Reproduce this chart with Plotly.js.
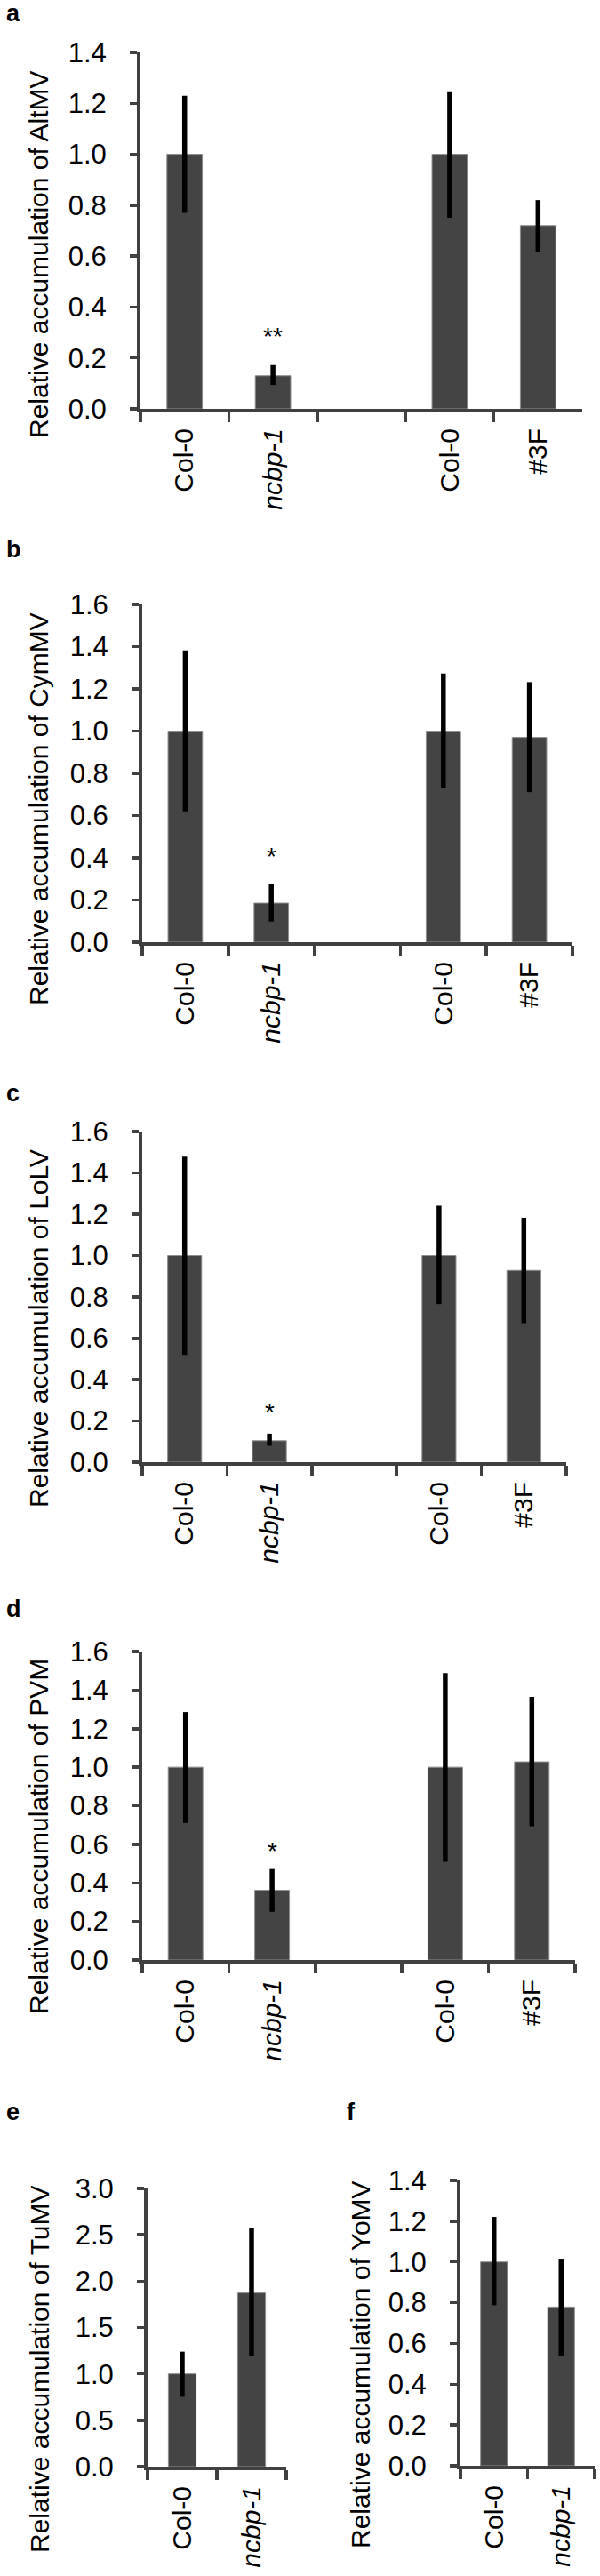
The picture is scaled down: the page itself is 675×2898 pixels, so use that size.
<!DOCTYPE html>
<html>
<head>
<meta charset="utf-8">
<script src="https://cdn.plot.ly/plotly-3.0.1.min.js"></script>
<style>
  html, body { margin: 0; padding: 0; background: #ffffff; }
  #chart { width: 675px; height: 2898px; }
</style>
</head>
<body>
<div id="chart"></div>
<script>
// categories (ids keep the two Col-0 groups apart, labels are what is printed)
const FOUR_IDS = ["col0_wt", "ncbp1", "gap", "col0_3f", "line3f"];
const FOUR_LABELS = ["Col-0", "<i>ncbp-1</i>", "", "Col-0", "#3F"];
const FOUR_BARS = ["col0_wt", "ncbp1", "col0_3f", "line3f"];
const TWO_IDS = ["col0", "ncbp1"];
const TWO_LABELS = ["Col-0", "<i>ncbp-1</i>"];

// values: bar height, top and bottom of the error bar
const altmvMean = [1.0, 0.13, 1.0, 0.72];
const altmvHigh = [1.23, 0.172, 1.247, 0.82];
const altmvLow = [0.77, 0.094, 0.751, 0.615];

const cymmvMean = [1.0, 0.185, 1.0, 0.97];
const cymmvHigh = [1.382, 0.275, 1.273, 1.232];
const cymmvLow = [0.62, 0.098, 0.733, 0.711];

const lolvMean = [1.0, 0.104, 1.0, 0.928];
const lolvHigh = [1.478, 0.138, 1.241, 1.183];
const lolvLow = [0.519, 0.08, 0.765, 0.673];

const pvmMean = [1.0, 0.362, 1.0, 1.028];
const pvmHigh = [1.286, 0.472, 1.488, 1.365];
const pvmLow = [0.711, 0.25, 0.51, 0.694];

const tumvMean = [1.0, 1.873];
const tumvHigh = [1.24, 2.578];
const tumvLow = [0.753, 1.188];

const yomvMean = [1.0, 0.779];
const yomvHigh = [1.221, 1.016];
const yomvLow = [0.788, 0.541];

// significance marks over ncbp-1, level = centre of the star
const starText = ["**", "*", "*", "*"];
const starLevel = [0.304, 0.43, 0.269, 0.592];

const W = 675;
const H = 2898;
const FONT = "Liberation Sans, Arial, Helvetica, sans-serif";
const AXIS_COLOR = "#404040";

// box = [left, right, top, bottom] of the plot area in pixels
const PANELS = [
  { letter: "a", virus: "AltMV", ids: FOUR_IDS, labels: FOUR_LABELS, bars: FOUR_BARS,
    mean: altmvMean, hi: altmvHigh, lo: altmvLow, yMax: 1.4, dtick: 0.2,
    box: [158, 655, 59, 460], letterAt: [5, 15], titleAt: [43, 286], star: 0 },
  { letter: "b", virus: "CymMV", ids: FOUR_IDS, labels: FOUR_LABELS, bars: FOUR_BARS,
    mean: cymmvMean, hi: cymmvHigh, lo: cymmvLow, yMax: 1.6, dtick: 0.2,
    box: [160, 644, 680, 1060], letterAt: [5, 618], titleAt: [43, 910], star: 1 },
  { letter: "c", virus: "LoLV", ids: FOUR_IDS, labels: FOUR_LABELS, bars: FOUR_BARS,
    mean: lolvMean, hi: lolvHigh, lo: lolvLow, yMax: 1.6, dtick: 0.2,
    box: [160, 637, 1273, 1645], letterAt: [5, 1230], titleAt: [43, 1495], star: 2 },
  { letter: "d", virus: "PVM", ids: FOUR_IDS, labels: FOUR_LABELS, bars: FOUR_BARS,
    mean: pvmMean, hi: pvmHigh, lo: pvmLow, yMax: 1.6, dtick: 0.2,
    box: [160, 647, 1858, 2205], letterAt: [5, 1810], titleAt: [43, 2066], star: 3 },
  { letter: "e", virus: "TuMV", ids: TWO_IDS, labels: TWO_LABELS, bars: TWO_IDS,
    mean: tumvMean, hi: tumvHigh, lo: tumvLow, yMax: 3.0, dtick: 0.5,
    box: [166, 322, 2462, 2775], letterAt: [5, 2376], titleAt: [44, 2665], star: -1 },
  { letter: "f", virus: "YoMV", ids: TWO_IDS, labels: TWO_LABELS, bars: TWO_IDS,
    mean: yomvMean, hi: yomvHigh, lo: yomvLow, yMax: 1.4, dtick: 0.2,
    box: [518, 669, 2453, 2774], letterAt: [388, 2376], titleAt: [405, 2660], star: -1 },
];

const traces = [];
const annotations = [];
const layout = {
  width: W,
  height: H,
  margin: { l: 0, r: 0, t: 0, b: 0 },
  paper_bgcolor: "#ffffff",
  plot_bgcolor: "#ffffff",
  font: { family: FONT, size: 30, color: "#000000" },
  bargap: 0.6,
  showlegend: false,
};

PANELS.forEach((p, i) => {
  const n = i === 0 ? "" : String(i + 1);
  const [left, right, top, bottom] = p.box;

  traces.push({
    type: "bar",
    x: p.bars,
    y: p.mean,
    xaxis: "x" + n,
    yaxis: "y" + n,
    marker: { color: "#444444", line: { color: "#8e8e8e", width: 1 } },
    error_y: {
      type: "data",
      symmetric: false,
      array: p.hi.map((v, k) => v - p.mean[k]),
      arrayminus: p.lo.map((v, k) => p.mean[k] - v),
      color: "#000000",
      thickness: 5.5,
      width: 0,
    },
    hoverinfo: "skip",
  });

  layout["xaxis" + n] = {
    domain: [left / W, right / W],
    anchor: "y" + n,
    type: "category",
    categoryorder: "array",
    categoryarray: p.ids,
    tickmode: "array",
    tickvals: p.ids,
    ticktext: p.labels,
    tickson: "boundaries",
    range: [-0.5, p.ids.length - 0.5],
    ticks: "outside",
    ticklen: 11,
    tickwidth: 3.5,
    tickcolor: AXIS_COLOR,
    tickangle: -90,
    ticklabelstandoff: 6,
    tickfont: { family: FONT, size: 30, color: "#000000" },
    showline: true,
    linecolor: AXIS_COLOR,
    linewidth: 4,
    showgrid: false,
    zeroline: false,
    fixedrange: true,
  };

  layout["yaxis" + n] = {
    domain: [1 - bottom / H, 1 - top / H],
    anchor: "x" + n,
    range: [0, p.yMax],
    tick0: 0,
    dtick: p.dtick,
    tickformat: ".1f",
    ticks: "outside",
    ticklen: 8,
    tickwidth: 3.5,
    tickcolor: AXIS_COLOR,
    ticklabelstandoff: 20,
    tickfont: { family: FONT, size: 31, color: "#000000" },
    showline: true,
    linecolor: AXIS_COLOR,
    linewidth: 4,
    showgrid: false,
    zeroline: false,
    fixedrange: true,
  };

  annotations.push({
    xref: "paper", yref: "paper",
    x: p.letterAt[0] / W, y: 1 - p.letterAt[1] / H,
    xanchor: "left", yanchor: "middle",
    text: "<b>" + p.letter + "</b>",
    showarrow: false,
    font: { family: FONT, size: 27, color: "#000000" },
  });

  annotations.push({
    xref: "paper", yref: "paper",
    x: p.titleAt[0] / W, y: 1 - p.titleAt[1] / H,
    xanchor: "center", yanchor: "middle",
    textangle: -90,
    text: "Relative accumulation of " + p.virus,
    showarrow: false,
    font: { family: FONT, size: 30, color: "#000000" },
  });

  if (p.star >= 0) {
    annotations.push({
      xref: "x" + n, yref: "y" + n,
      x: "ncbp1", y: starLevel[p.star],
      xanchor: "center", yanchor: "middle",
      yshift: -6,
      text: starText[p.star],
      showarrow: false,
      font: { family: FONT, size: 28, color: "#000000" },
    });
  }
});

layout.annotations = annotations;

Plotly.newPlot("chart", traces, layout, { staticPlot: true, displayModeBar: false });
</script>
</body>
</html>
